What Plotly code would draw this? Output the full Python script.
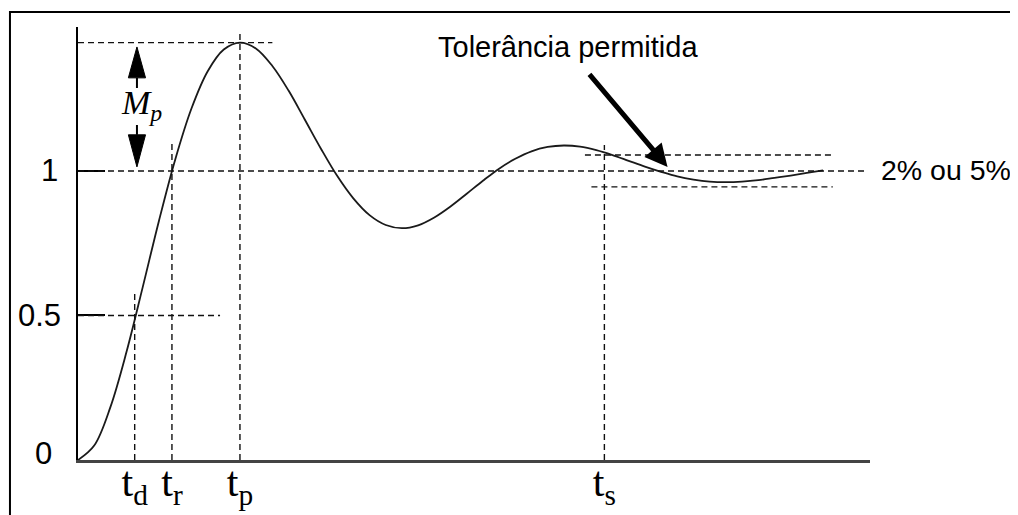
import plotly.graph_objects as go

# ---- data (time in arbitrary units, response normalised) ----
time = [0, 1, 2, 3, 4, 5, 6, 7, 8, 9,
        10, 11, 12, 13, 14, 15, 16, 17, 18, 19,
        20, 21, 22, 23, 24, 25, 26, 27, 28, 29,
        30, 31, 32, 33, 34, 35, 36, 37, 38, 39,
        40, 41, 42, 43, 44, 45, 46]
response = [0.000, 0.050, 0.183, 0.375, 0.599, 0.828, 1.039, 1.215, 1.344, 1.420,
            1.444, 1.423, 1.363, 1.278, 1.178, 1.077, 0.983, 0.905, 0.847, 0.813,
            0.802, 0.812, 0.839, 0.877, 0.921, 0.966, 1.008, 1.042, 1.068, 1.083,
            1.088, 1.084, 1.072, 1.055, 1.035, 1.015, 0.997, 0.981, 0.970, 0.963,
            0.961, 0.963, 0.968, 0.976, 0.984, 0.993, 1.002]

t_d, t_r, t_p, t_s = 3.5, 5.8, 10.0, 32.5
x_tick_vals = [t_d, t_r, t_p, t_s]
x_tick_text = ["t<sub>d</sub>", "t<sub>r</sub>", "t<sub>p</sub>", "t<sub>s</sub>"]
y_tick_vals = [0, 0.5, 1]
y_tick_text = ["0", "0.5", "1"]
steady = 1.0
half = 0.5
peak = 1.444
tol = 0.055

X_MAX = 48.9
Y_MAX = 1.498

fig = go.Figure()
fig.add_trace(go.Scatter(x=time, y=response, mode="lines",
                         line=dict(color="#1a1a1a", width=1.8, shape="spline"),
                         hoverinfo="skip", showlegend=False))

DASH = "6px,4px"
dl = dict(color="#111111", width=1.4, dash=DASH)

def seg(x0, y0, x1, y1, line=dl):
    fig.add_shape(type="line", xref="x", yref="y", x0=x0, y0=y0, x1=x1, y1=y1, line=line)

# guide lines
seg(0, peak, 12.0, peak)
seg(t_p, 0, t_p, 1.488)
seg(0, steady, 48.7, steady)
seg(t_r, 0, t_r, 1.097)
seg(0, half, 8.77, half)
seg(t_d, 0, t_d, 0.578)
seg(t_s, 0, t_s, 1.090)
seg(31.3, steady + tol, 46.6, steady + tol)
seg(31.7, steady - tol, 46.6, steady - tol)

# Mp double arrow (drawn as shaft + triangular heads)
mx = 3.64
hw = 0.53
solid = dict(color="black", width=2)
seg(mx, 1.287, mx, 1.322, solid)
seg(mx, 1.159, mx, 1.125, solid)
up_base, up_tip = 1.322, peak - 0.015
dn_base, dn_tip = 1.125, steady + 0.014
fig.add_shape(type="path", xref="x", yref="y",
              path=f"M {mx-hw},{up_base} L {mx+hw},{up_base} L {mx},{up_tip} Z",
              fillcolor="black", line=dict(color="black", width=1))
fig.add_shape(type="path", xref="x", yref="y",
              path=f"M {mx-hw},{dn_base} L {mx+hw},{dn_base} L {mx},{dn_tip} Z",
              fillcolor="black", line=dict(color="black", width=1))

# outer frame
fig.add_shape(type="rect", xref="paper", yref="paper",
              x0=-0.0859, x1=1.25, y0=-0.2, y1=1.0346,
              line=dict(color="black", width=2), fillcolor="rgba(0,0,0,0)", layer="above")

ann = []
# y tick labels (placed individually, as in the reference)
ylab_x = [-0.0435, -0.0480, -0.0354]   # paper x of label centres
ylab_shift = [7, 0, 0]
for v, txt, px, sh in zip(y_tick_vals, y_tick_text, ylab_x, ylab_shift):
    ann.append(dict(x=px, y=v, xref="paper", yref="y", text=txt, showarrow=False,
                    xanchor="center", yanchor="middle", yshift=sh,
                    font=dict(family="Liberation Sans, Arial", size=31, color="black")))

ann.append(dict(x=3.89, y=1.228, xref="x", yref="y", text="<i>M<sub>p</sub></i>",
                showarrow=False, font=dict(family="Liberation Serif", size=34, color="black")))
ann.append(dict(x=38.4, y=1.429, xref="x", yref="y", text="Tolerância permitida",
                xanchor="right", yanchor="middle", showarrow=False,
                font=dict(family="Liberation Sans, Arial", size=29, color="black")))
ann.append(dict(x=1.0114, y=1.003, xref="paper", yref="y", text="2% ou 5%",
                xanchor="left", yanchor="middle", showarrow=False,
                font=dict(family="Liberation Sans, Arial", size=28.5, color="black")))
ann.append(dict(x=36.4, y=1.014, xref="x", yref="y", ax=31.5, ay=1.339,
                axref="x", ayref="y", text="", showarrow=True,
                arrowhead=2, arrowwidth=5, arrowsize=0.9, arrowcolor="black"))

fig.update_layout(
    width=1018, height=515,
    margin=dict(l=70, r=156, t=19, b=63, autoexpand=False),
    paper_bgcolor="white", plot_bgcolor="white",
    annotations=ann,
    xaxis=dict(range=[0, X_MAX], showgrid=False, zeroline=False, automargin=False,
               showline=True, linecolor="#444444", linewidth=3,
               tickvals=x_tick_vals, ticktext=x_tick_text, ticks="",
               ticklabelstandoff=-17,
               tickfont=dict(family="Liberation Serif", size=42, color="black")),
    yaxis=dict(range=[0, Y_MAX], showgrid=False, zeroline=False, automargin=False,
               showline=True, linecolor="black", linewidth=2,
               tickvals=y_tick_vals, ticktext=y_tick_text, showticklabels=False,
               ticks="inside", ticklen=27, tickwidth=1.5, tickcolor="black"),
)

fig.write_html("out.html")
